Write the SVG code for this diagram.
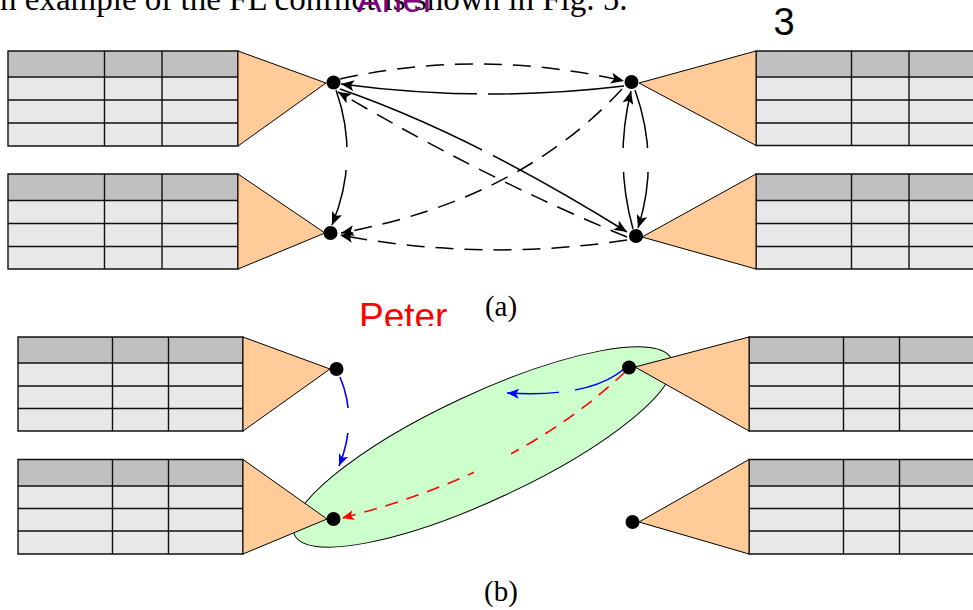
<svg xmlns="http://www.w3.org/2000/svg" width="973" height="610" viewBox="0 0 973 610">
<style>
.hd{fill:#c0c0c0}
.bd{fill:#e8e8e8}
.tl{fill:none;stroke:#111;stroke-width:1.4}
.tri{fill:#ffcc99;stroke:#000;stroke-width:1}
.dot{fill:#000}
.sol{fill:none;stroke:#000;stroke-width:1.5}
.dsh{fill:none;stroke:#000;stroke-width:1.5;stroke-dasharray:18 11}
.blue{fill:none;stroke:#0000ff;stroke-width:1.6}
.red{fill:none;stroke:#ff0000;stroke-width:1.6;stroke-dasharray:13 9}
.serif{font-family:"Liberation Serif","Times New Roman",serif;fill:#000}
.sans{font-family:"Liberation Sans",Arial,sans-serif}
</style>
<defs>
<marker id="ak" markerUnits="userSpaceOnUse" markerWidth="14" markerHeight="11" refX="13" refY="5.5" orient="auto"><path d="M0,0 L13,5.5 L0,11 L3,5.5 z" fill="#000"/></marker>
<marker id="ab" markerUnits="userSpaceOnUse" markerWidth="13" markerHeight="10" refX="12" refY="5" orient="auto"><path d="M0,0 L12,5 L0,10 L3,5 z" fill="#0000ff"/></marker>
<marker id="ar" markerUnits="userSpaceOnUse" markerWidth="13" markerHeight="10" refX="12" refY="5" orient="auto"><path d="M0,0 L12,5 L0,10 L3,5 z" fill="#ff0000"/></marker>
<mask id="gapA" maskUnits="userSpaceOnUse" x="0" y="0" width="973" height="610">
<rect x="0" y="0" width="973" height="610" fill="#fff"/>
<rect x="477" y="86" width="11" height="18" fill="#000"/>
<rect x="334" y="147" width="28" height="23" fill="#000"/>
<rect x="612" y="148" width="45" height="24" fill="#000"/>
<rect x="482" y="143" width="11" height="13" fill="#000"/>
</mask>
<mask id="gapB" maskUnits="userSpaceOnUse" x="0" y="0" width="973" height="610">
<rect x="0" y="0" width="973" height="610" fill="#fff"/>
<rect x="338" y="408" width="25" height="25" fill="#000"/>
<rect x="559" y="380" width="16" height="22" fill="#000"/>
<rect x="474" y="452" width="37" height="26" fill="#000"/>
</mask>
<clipPath id="clipPeter"><rect x="340" y="280" width="130" height="46"/></clipPath>
</defs>

<text class="serif" x="0" y="10" font-size="33">n example of the FL conflict is shown in Fig. 5.</text>
<text class="sans" x="357" y="12" font-size="37" fill="#800080">Ariel</text>
<text class="sans" x="784" y="35" font-size="38" fill="#000" text-anchor="middle">3</text>

<ellipse id="conflict-region" cx="483" cy="447" rx="208" ry="53" transform="rotate(-25 483 447)" fill="#ccffcc" stroke="#000" stroke-width="1"/>

<g id="node-a1">
<rect class="hd" x="8" y="51" width="230" height="26"/><rect class="bd" x="8" y="77" width="230" height="69"/>
<path class="tl" d="M8,51H238V146H8Z M8,77H238 M8,100H238 M8,123H238 M104.5,51V146 M162,51V146"/>
<polygon class="tri" points="238,51 238,146 326,83"/>
</g>
<g id="node-a2">
<rect class="hd" x="8" y="174" width="230" height="26.5"/><rect class="bd" x="8" y="200.5" width="230" height="68.5"/>
<path class="tl" d="M8,174H238V269H8Z M8,200.5H238 M8,223.5H238 M8,246.5H238 M104.5,174V269 M162,174V269"/>
<polygon class="tri" points="238,174 238,269 325,233"/>
</g>
<g id="node-a3">
<rect class="hd" x="756" y="51" width="230" height="26"/><rect class="bd" x="756" y="77" width="230" height="68.5"/>
<path class="tl" d="M756,51H986V145.5H756Z M756,77H986 M756,100H986 M756,123H986 M851.5,51V145.5 M909,51V145.5"/>
<polygon class="tri" points="756,51 756,145.5 639,83"/>
</g>
<g id="node-a4">
<rect class="hd" x="756" y="174" width="230" height="26.5"/><rect class="bd" x="756" y="200.5" width="230" height="68.5"/>
<path class="tl" d="M756,174H986V269H756Z M756,200.5H986 M756,223.5H986 M756,246.5H986 M851.5,174V269 M909,174V269"/>
<polygon class="tri" points="756,174 756,269 642,237"/>
</g>
<g id="node-b1">
<rect class="hd" x="18" y="337" width="225" height="26"/><rect class="bd" x="18" y="363" width="225" height="68"/>
<path class="tl" d="M18,337H243V431H18Z M18,363H243 M18,386H243 M18,408.5H243 M112.5,337V431 M168.5,337V431"/>
<polygon class="tri" points="243,337 243,431 330,369"/>
</g>
<g id="node-b2">
<rect class="hd" x="18" y="459.5" width="225" height="26.5"/><rect class="bd" x="18" y="486" width="225" height="68"/>
<path class="tl" d="M18,459.5H243V554H18Z M18,486H243 M18,508.5H243 M18,531H243 M112.5,459.5V554 M168.5,459.5V554"/>
<polygon class="tri" points="243,459.5 243,554 327,519"/>
</g>
<g id="node-b3">
<rect class="hd" x="749" y="337" width="230" height="26"/><rect class="bd" x="749" y="363" width="230" height="68"/>
<path class="tl" d="M749,337H979V431H749Z M749,363H979 M749,386H979 M749,408.5H979 M843.5,337V431 M899.5,337V431"/>
<polygon class="tri" points="749,337 749,431 635,367"/>
</g>
<g id="node-b4">
<rect class="hd" x="749" y="459.5" width="230" height="26.5"/><rect class="bd" x="749" y="486" width="230" height="68"/>
<path class="tl" d="M749,459.5H979V554H749Z M749,486H979 M749,508.5H979 M749,531H979 M843.5,459.5V554 M899.5,459.5V554"/>
<polygon class="tri" points="749,459.5 749,554 639,522"/>
</g>

<g id="connectors">
<g mask="url(#gapA)">
<path class="dsh" d="M340,79 Q480,48 624,81" marker-end="url(#ak)"/>
<path class="sol" d="M624,86 Q482,103 341,84" marker-end="url(#ak)"/>
<path class="sol" d="M336,90 Q360,158 332,225" marker-end="url(#ak)"/>
<path class="sol" d="M340,89 Q470,134 627,232" marker-end="url(#ak)"/>
<path class="dsh" d="M627,237 Q488,180 338,92" marker-end="url(#ak)"/>
<path class="dsh" d="M622,89 Q520,200 341,233" marker-end="url(#ak)"/>
<path class="dsh" d="M627,240 Q483,262 340,235" marker-end="url(#ak)"/>
<path class="sol" d="M635,90 Q660,160 638,228" marker-end="url(#ak)"/>
<path class="sol" d="M633,229 Q614,160 631,91" marker-end="url(#ak)"/>
</g>
<g mask="url(#gapB)">
<path class="blue" d="M340,377 Q358,420 339,466" marker-end="url(#ab)"/>
<path class="blue" d="M624,369 Q590,398 507,393" marker-end="url(#ab)"/>
<path class="red" d="M625,372 Q517,474 342,518" marker-end="url(#ar)"/>
</g>
</g>

<g id="dots">
<circle class="dot" cx="333.5" cy="82.5" r="7"/>
<circle class="dot" cx="330.5" cy="233" r="7"/>
<circle class="dot" cx="631.5" cy="82" r="7"/>
<circle class="dot" cx="636" cy="236" r="7"/>
<circle class="dot" cx="336.5" cy="369" r="7"/>
<circle class="dot" cx="333.5" cy="519" r="7"/>
<circle class="dot" cx="629" cy="367.5" r="7"/>
<circle class="dot" cx="632.5" cy="522" r="7"/>
</g>

<text class="sans" x="359" y="329" font-size="37" fill="#ff0000" clip-path="url(#clipPeter)">Peter</text>
<text class="serif" x="501" y="316" font-size="29" text-anchor="middle">(a)</text>
<text class="serif" x="501" y="601" font-size="29" text-anchor="middle">(b)</text>
</svg>
